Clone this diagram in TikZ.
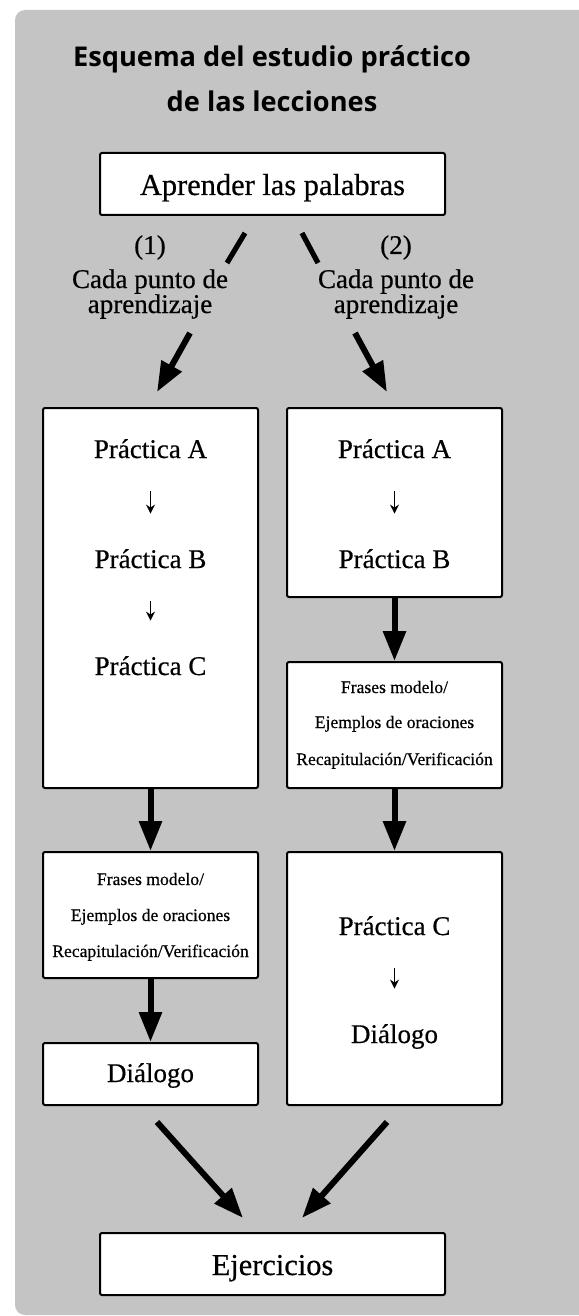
\documentclass[tikz,border=0pt]{standalone}
\usepackage{fontspec}
\setmainfont{Liberation Serif}[FakeBold=0.5]
\newfontfamily\titlefont{Open Sans}
\usetikzlibrary{arrows.meta}
\definecolor{panelgray}{RGB}{196,196,196}
\newcommand{\drawbox}[1]{\node[draw, fill=white, line width=1pt, rounded corners=1pt, inner sep=0pt, #1]}
\newcommand{\drawtitle}{\node[anchor=base, inner sep=0pt, font=\titlefont\bfseries\fontsize{13.6}{16}\selectfont]}
\newcommand{\drawtext}{\node[anchor=base, inner sep=0pt, text height=10pt, text depth=0pt, font=\fontsize{13.5}{16}\selectfont]}
\newcommand{\drawbig}{\node[anchor=base, inner sep=0pt, font=\fontsize{15.2}{18}\selectfont]}
\newcommand{\drawsmall}{\node[anchor=base, inner sep=0pt, font=\fontsize{8.8}{10}\selectfont]}

\begin{document}
\begin{tikzpicture}[x=0.5pt, y=-0.5pt,
  bigarrow/.style={line width=3pt, -{Triangle[length=15pt, width=11pt]}},
  bigline/.style={line width=2.6pt},
  smallarrow/.style={line width=0.9pt, -{Stealth[length=4.5pt, width=4.5pt]}, shorten <=16.5pt, shorten >=17pt}]
\useasboundingbox (0,0) rectangle (578,1316);
\fill[panelgray, rounded corners=5pt] (15,10) rectangle (640,1315);

%title
\drawtitle (title1) at (272,67) {Esquema del estudio práctico};
\drawtitle (title2) at (272,112) {de las lecciones};

%boxes
\drawbox{minimum width=172.5pt, minimum height=31pt} (words) at (272.5,184) {};
\drawbig (wordstxt) at (272.5,195) {Aprender las palabras};
\drawbox{minimum width=107.5pt, minimum height=190pt} (lbox1) at (150.5,598) {};
\drawbox{minimum width=107.5pt, minimum height=63pt} (lbox2) at (150.5,915) {};
\drawbox{minimum width=107.5pt, minimum height=31pt} (lbox3) at (150.5,1074) {};
\drawbox{minimum width=107.5pt, minimum height=94.5pt} (rbox1) at (394.5,502.5) {};
\drawbox{minimum width=107.5pt, minimum height=63pt} (rbox2) at (394.5,725) {};
\drawbox{minimum width=107.5pt, minimum height=126.5pt} (rbox3) at (394.5,978.5) {};
\drawbox{minimum width=172.5pt, minimum height=31pt} (exer) at (272.5,1264) {};
\drawbig (exertxt) at (272.5,1275) {Ejercicios};

%labels of the two ways
\drawtext (num1) at (150,254) {(1)};
\drawtext (each1) at (150,288) {Cada punto de};
\drawtext (learn1) at (150,313) {aprendizaje};
\drawtext (num2) at (396,254) {(2)};
\drawtext (each2) at (396,288) {Cada punto de};
\drawtext (learn2) at (396,313) {aprendizaje};

%left column
\drawtext (la) at (150.5,458) {Práctica A};
\drawtext (lb) at (150.5,568) {Práctica B};
\drawtext (lc) at (150.5,675) {Práctica C};
\drawsmall (lf1) at (150.5,885) {Frases modelo/};
\drawsmall (lf2) at (150.5,921) {Ejemplos de oraciones};
\drawsmall (lf3) at (150.5,957) {Recapitulación/Verificación};
\drawtext (ld) at (150.5,1082) {Diálogo};

%right column
\drawtext (ra) at (394.5,458) {Práctica A};
\drawtext (rb) at (394.5,568) {Práctica B};
\drawsmall (rf1) at (394.5,693) {Frases modelo/};
\drawsmall (rf2) at (394.5,728) {Ejemplos de oraciones};
\drawsmall (rf3) at (394.5,765) {Recapitulación/Verificación};
\drawtext (rc) at (394.5,935) {Práctica C};
\drawtext (rd) at (394.5,1043) {Diálogo};

%split arrows
\coordinate (s1a) at (245,233);
\coordinate (s1b) at (227,263);
\coordinate (s1c) at (190,333);
\coordinate (s1d) at (157,392);
\coordinate (s2a) at (302,233);
\coordinate (s2b) at (318,263);
\coordinate (s2c) at (355,333);
\coordinate (s2d) at (387,392);
\draw[bigline] (s1a) -- (s1b);
\draw[bigarrow] (s1c) -- (s1d);
\draw[bigline] (s2a) -- (s2b);
\draw[bigarrow] (s2c) -- (s2d);

%join arrows
\coordinate (j1a) at (157,1122);
\coordinate (j1b) at (243,1218);
\coordinate (j2a) at (387,1122);
\coordinate (j2b) at (302,1218);
\draw[bigarrow] (j1a) -- (j1b);
\draw[bigarrow] (j2a) -- (j2b);

%box to box
\draw[bigarrow] (lbox1) -- (lbox2);
\draw[bigarrow] (lbox2) -- (lbox3);
\draw[bigarrow] (rbox1) -- (rbox2);
\draw[bigarrow] (rbox2) -- (rbox3);

%inside the boxes
\draw[smallarrow] (la) -- (lb);
\draw[smallarrow] (lb) -- (lc);
\draw[smallarrow] (ra) -- (rb);
\draw[smallarrow] (rc) -- (rd);
\end{tikzpicture}
\end{document}
